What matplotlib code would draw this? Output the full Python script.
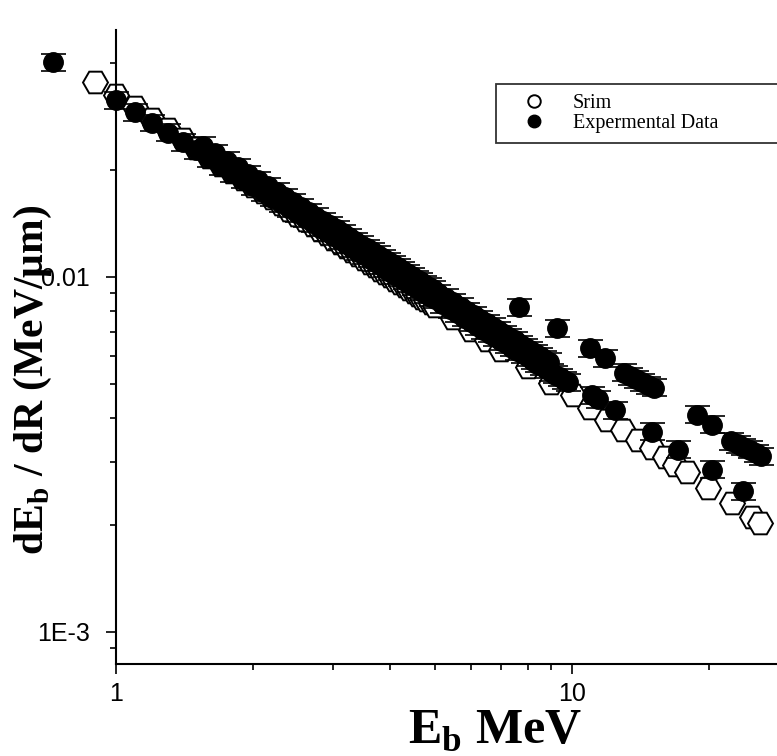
import matplotlib
matplotlib.use('Agg')
import matplotlib.pyplot as plt
import matplotlib.ticker as mticker
from matplotlib.lines import Line2D

# --- data ---
srim_energy = [0.9, 1.0, 1.1, 1.2, 1.3, 1.4, 1.5, 1.6, 1.7, 1.8, 1.9,
               2.0, 2.1, 2.2, 2.3, 2.4, 2.5, 2.6, 2.7, 2.8, 2.9,
               3.0, 3.1, 3.2, 3.3, 3.4, 3.5, 3.6, 3.7, 3.8, 3.9,
               4.0, 4.1, 4.2, 4.3, 4.4, 4.5, 4.6, 4.7, 4.8, 4.9,
               5.0, 5.5, 6.0, 6.5, 7.0, 8.0, 9.0,
               10.05, 10.95, 11.93, 12.94, 13.95, 14.98, 15.99, 16.82, 17.87,
               19.87, 22.43, 24.81, 25.84]
srim_dedr = [0.0354, 0.0326, 0.0301, 0.0279, 0.0261, 0.0245, 0.0231, 0.02185, 0.02075, 0.01977, 0.01888,
             0.01808, 0.01734, 0.01667, 0.01605, 0.01548, 0.01496, 0.01446, 0.01401, 0.01358, 0.01318,
             0.01281, 0.01246, 0.01213, 0.01182, 0.01152, 0.01123, 0.01097, 0.01072, 0.01048, 0.01025,
             0.01003, 0.00982, 0.00962, 0.00943, 0.00925, 0.00907, 0.00890, 0.00874, 0.00859, 0.00844,
             0.00830, 0.00765, 0.00710, 0.00664, 0.00623, 0.00556, 0.00503,
             0.00465, 0.00428, 0.00396, 0.00371, 0.00347, 0.00330, 0.00311, 0.00295, 0.00281,
             0.00254, 0.00231, 0.00211, 0.00203]

# experimental points: lower edge of the dense band plus the scattered ones
exp_energy = [0.727,
              1.0, 1.1, 1.2, 1.3, 1.4, 1.5, 1.6, 1.7, 1.8, 1.9,
              2.0, 2.1, 2.2, 2.3, 2.4, 2.5, 2.6, 2.7, 2.8, 2.9,
              3.0, 3.1, 3.2, 3.3, 3.4, 3.5, 3.6, 3.7, 3.8, 3.9,
              4.0, 4.1, 4.2, 4.3, 4.4, 4.5, 4.6, 4.7, 4.8, 4.9,
              5.0, 5.2, 5.4, 5.6, 5.8, 6.0, 6.2, 6.4, 6.6, 6.8,
              7.0, 7.2, 7.4, 7.6, 7.8, 8.0, 8.2, 8.4, 8.6, 8.8,
              9.0, 9.2, 9.4, 9.6, 9.8,
              7.65, 9.27, 10.95, 11.81,
              13.0, 13.4, 13.8, 14.24, 14.68, 15.13,
              18.8, 20.3,
              22.4, 23.1, 23.8, 24.6, 25.3, 26.0,
              11.07, 11.4, 12.43, 14.98, 17.08, 20.3, 23.8]
exp_dedr = [0.0404,
            0.03149, 0.02918, 0.02721, 0.02551, 0.02404, 0.02274, 0.02160, 0.02057, 0.01965, 0.01881,
            0.01805, 0.01736, 0.01672, 0.01614, 0.01560, 0.01510, 0.01463, 0.01419, 0.01378, 0.01340,
            0.01304, 0.01270, 0.01238, 0.01208, 0.01179, 0.01151, 0.01126, 0.01101, 0.01078, 0.01056,
            0.01034, 0.01014, 0.00995, 0.00976, 0.00958, 0.00941, 0.00925, 0.00909, 0.00894, 0.00879,
            0.00865, 0.00838, 0.00813, 0.00790, 0.00768, 0.00747, 0.00728, 0.00709, 0.00692, 0.00676,
            0.00660, 0.00645, 0.00632, 0.00618, 0.00605, 0.00593, 0.00581, 0.00570, 0.00560, 0.00549,
            0.00540, 0.00530, 0.00521, 0.00512, 0.00504,
            0.00823, 0.00718, 0.00631, 0.00591,
            0.00537, 0.00526, 0.00516, 0.00506, 0.00496, 0.00487,
            0.00409, 0.00383,
            0.00345, 0.00338, 0.00332, 0.00326, 0.00319, 0.00313,
            0.00465, 0.00453, 0.00422, 0.00366, 0.00326, 0.00286, 0.00249]

# experimental points along the upper edge of the dense band
exp_upper_energy = [1.55, 1.65, 1.75, 1.85, 1.95, 2.05, 2.15, 2.25, 2.35, 2.45,
                    2.55, 2.65, 2.75, 2.85, 2.95, 3.05, 3.15, 3.25, 3.35, 3.45,
                    3.55, 3.65, 3.75, 3.85, 3.95, 4.05, 4.15, 4.25, 4.35, 4.45,
                    4.55, 4.65, 4.75, 4.85, 4.95, 5.1, 5.3, 5.5, 5.7, 5.9,
                    6.1, 6.3, 6.5, 6.7, 6.9, 7.1, 7.3, 7.5, 7.7, 7.9,
                    8.1, 8.3, 8.5, 8.7, 8.9]
exp_upper_dedr = [0.02347, 0.02232, 0.02129, 0.02036, 0.01952, 0.01875, 0.01805, 0.01740, 0.01680, 0.01625,
                  0.01573, 0.01525, 0.01480, 0.01439, 0.01400, 0.01363, 0.01328, 0.01295, 0.01264, 0.01234,
                  0.01206, 0.01180, 0.01155, 0.01130, 0.01107, 0.01085, 0.01064, 0.01044, 0.01025, 0.01006,
                  0.00988, 0.00971, 0.00955, 0.00939, 0.00924, 0.00902, 0.00874, 0.00849, 0.00825, 0.00802,
                  0.00781, 0.00761, 0.00742, 0.00724, 0.00707, 0.00691, 0.00676, 0.00662, 0.00648, 0.00635,
                  0.00622, 0.00610, 0.00598, 0.00587, 0.00577]
exp_rel_err = 0.055

x_ticks = [1, 10]
x_tick_labels = ['1', '10']
y_ticks = [1e-3, 1e-2]
y_tick_labels = ['1E-3', '0.01']

plt.rcParams['mathtext.fontset'] = 'custom'
plt.rcParams['mathtext.rm'] = 'Liberation Serif'
plt.rcParams['mathtext.bf'] = 'Liberation Serif:bold'

fig = plt.figure(figsize=(7.77, 7.56), dpi=100)
ax = fig.add_axes([116 / 777, 92 / 756, 661 / 777, 634 / 756])

# --- Srim (open hexagons) ---
ax.plot(srim_energy, srim_dedr, linestyle='none', marker='H', markersize=18,
        markerfacecolor='white', markeredgecolor='black', markeredgewidth=1.4,
        clip_on=False, zorder=2)

# --- experimental data with error bars ---
for xs, ys in [(exp_upper_energy, exp_upper_dedr), (exp_energy, exp_dedr)]:
    errs = [v * exp_rel_err for v in ys]
    eb = ax.errorbar(xs, ys, yerr=errs, fmt='o', markersize=14,
                     color='black', ecolor='black', elinewidth=1.2, capsize=9,
                     capthick=1.2, zorder=3)
    eb[0].set_clip_on(False)
    for cap in eb[1]:
        cap.set_clip_on(False)
    for bar in eb[2]:
        bar.set_clip_on(False)

# --- axes styling ---
ax.set_xscale('log')
ax.set_yscale('log')
ax.set_xlim(1, 28.2)
ax.set_ylim(0.00081, 0.0497)

ax.spines['top'].set_visible(False)
ax.spines['right'].set_visible(False)
ax.spines['left'].set_linewidth(1.5)
ax.spines['bottom'].set_linewidth(1.5)

ax.set_xticks(x_ticks)
ax.set_xticklabels(x_tick_labels)
ax.set_yticks(y_ticks)
ax.set_yticklabels(y_tick_labels)
ax.xaxis.set_minor_locator(mticker.LogLocator(base=10, subs=range(2, 10)))
ax.yaxis.set_minor_locator(mticker.LogLocator(base=10, subs=range(2, 10)))
ax.xaxis.set_minor_formatter(mticker.NullFormatter())
ax.yaxis.set_minor_formatter(mticker.NullFormatter())

ax.tick_params(which='major', direction='out', length=7, width=1.2, labelsize=18)
ax.tick_params(axis='x', which='major', pad=6)
ax.tick_params(axis='y', which='major', pad=12)
ax.tick_params(which='minor', direction='out', length=4.5, width=1.2)
for lab in ax.get_xticklabels() + ax.get_yticklabels():
    lab.set_fontfamily('Liberation Sans')

ax.set_xlabel(r'E$_{\mathbf{b}}$ MeV', fontsize=36, fontweight='bold',
              fontfamily='Liberation Serif', va='baseline')
ax.xaxis.set_label_coords(0.5734, -0.1246)
ax.set_ylabel(r'dE$_{\mathbf{b}}$ / dR (MeV/μm)', fontsize=30, fontweight='bold',
              fontfamily='Liberation Serif', va='center')
ax.yaxis.set_label_coords(-0.1256, 0.448)

# --- legend ---
handles = [
    Line2D([], [], linestyle='none', marker='o', markersize=9,
           markerfacecolor='white', markeredgecolor='black', markeredgewidth=1.4),
    Line2D([], [], linestyle='none', marker='o', markersize=9,
           markerfacecolor='black', markeredgecolor='black'),
]
leg = fig.legend(handles, ['Srim', 'Expermental Data'], loc='upper left',
                 bbox_to_anchor=(496 / 777, 1 - 84 / 756 - 0.01, 300 / 777, 0.01),
                 bbox_transform=fig.transFigure, mode='expand', borderaxespad=0,
                 prop={'family': 'Liberation Serif', 'size': 14.5},
                 handlelength=2.8, handletextpad=0.5, labelspacing=0.05,
                 borderpad=0.5, fancybox=False, frameon=True)
leg.get_frame().set_edgecolor('black')
leg.get_frame().set_linewidth(1.3)

fig.savefig('out.png', dpi=100)
